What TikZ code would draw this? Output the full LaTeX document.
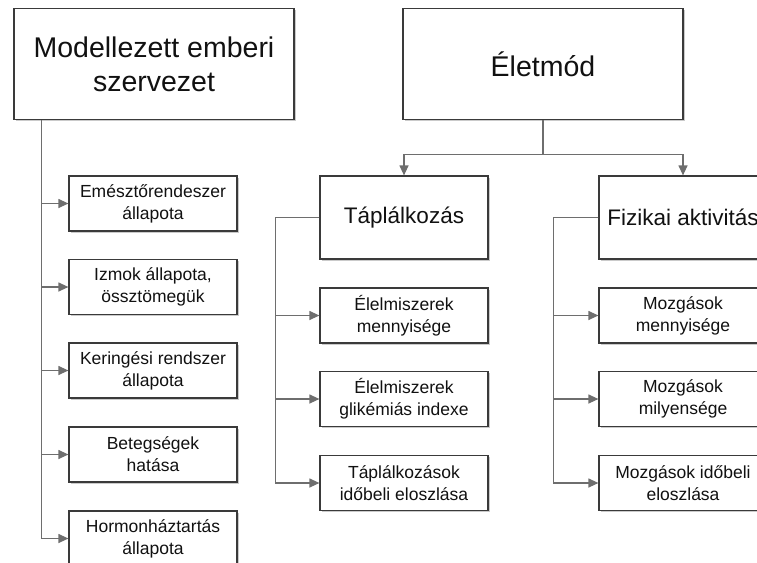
\documentclass[tikz,border=0pt]{standalone}
\usepackage{fontspec}
\setmainfont{Liberation Sans}
\usetikzlibrary{arrows.meta,shadows}

\definecolor{vonal}{HTML}{6E6E6E}
\definecolor{keret}{HTML}{3A3A3A}
\definecolor{betu}{HTML}{111111}

\begin{document}
\begin{tikzpicture}[
    x=1pt, y=-1pt,
    line width=1.2pt,
    >={Triangle[length=10pt,width=9pt]},
    doboz/.style={draw=keret, fill=white, text=betu, align=center, inner sep=1pt,
      drop shadow={shadow xshift=1.5pt, shadow yshift=-1.5pt, fill=black!35, opacity=0.6}},
    fo/.style={doboz, minimum width=280pt, minimum height=111pt, font=\fontsize{28.5}{34}\selectfont},
    kozep/.style={doboz, minimum width=168pt, minimum height=83pt, font=\fontsize{22.5}{27}\selectfont},
    kis/.style={doboz, minimum width=168pt, minimum height=55pt, font=\fontsize{17.5}{22}\selectfont},
    nyil/.style={draw=vonal, ->},
  ]
  \clip (0,0) rectangle (757,562);

  % Fo dobozok
  \node[fo] (modell) at (154,64) {Modellezett emberi\\szervezet};
  \node[fo] (eletmod) at (543,64) {Életmód};
  \node[kozep] (taplal) at (404,217.5) {Táplálkozás};
  \node[kozep] (fizikai) at (683,217.5) {Fizikai aktivitás};

  % Szervezet allapotai
  \node[kis] (emeszt) at (153,203.5) {Emésztőrendeszer\\állapota};
  \node[kis] (izmok) at (153,287) {Izmok állapota,\\össztömegük};
  \node[kis] (kering) at (153,370.5) {Keringési rendszer\\állapota};
  \node[kis] (beteg) at (153,454.5) {Betegségek\\hatása};
  \node[kis] (hormon) at (153,538.5) {Hormonháztartás\\állapota};

  % Taplalkozas
  \node[kis] (menny) at (404,315.5) {Élelmiszerek\\mennyisége};
  \node[kis] (glik) at (404,399) {Élelmiszerek\\glikémiás indexe};
  \node[kis] (idobeli) at (404,483) {Táplálkozások\\időbeli eloszlása};

  % Fizikai aktivitas
  \node[kis] (mozgmenny) at (683,315.5) {Mozgások\\mennyisége};
  \node[kis] (mozgmily) at (683,399) {Mozgások\\milyensége};
  \node[kis] (mozgido) at (683,483) {Mozgások időbeli\\eloszlása};

  % Kapcsolatok
  \coordinate (torzs) at ([xshift=28pt]modell.south west);
  \foreach \n in {emeszt,izmok,kering,beteg,hormon}
    \draw[nyil] (torzs) |- (\n.west);

  \draw[nyil] (eletmod.south) -- ++(0,34) -| (taplal.north);
  \draw[nyil] (eletmod.south) -- ++(0,34) -| (fizikai.north);

  \foreach \n in {menny,glik,idobeli}
    \draw[nyil] (taplal.west) -- ++(-44,0) |- (\n.west);
  \foreach \n in {mozgmenny,mozgmily,mozgido}
    \draw[nyil] (fizikai.west) -- ++(-45,0) |- (\n.west);
\end{tikzpicture}
\end{document}
